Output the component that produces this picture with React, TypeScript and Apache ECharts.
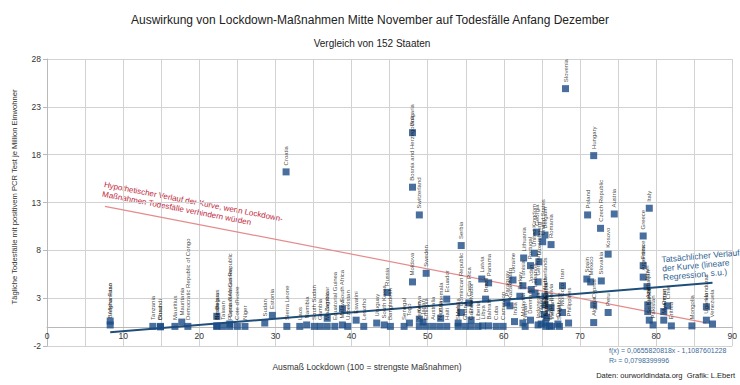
import React, { useEffect, useRef } from 'react';
import * as echarts from 'echarts';

const COUNTRIES = [
  'Afghanistan', 'Burkina Faso', 'Tanzania', 'Chad', 'Burundi', 'Mauritius', 'Mauritania', 'Democratic Republic of Congo',
  'Belarus', 'Nicaragua', 'Benin', 'Taiwan', 'Central African Republic', 'Papua New Guinea', "Cote d'Ivoire", 'Niger',
  'Sudan', 'Estonia', 'Croatia', 'Sierra Leone', 'Laos', 'Namibia', 'South Sudan', 'Gambia',
  'Madagascar', 'Zambia', 'Equatorial Guinea', 'South Africa', 'Malawi', 'Uzbekistan', 'Eswatini', 'Lesotho',
  'Uruguay', 'South Korea', 'Russia', 'Bangladesh', 'Senegal', 'Togo', 'Bulgaria', 'Bosnia and Herzegovina',
  'Moldova', 'Switzerland', 'Kenya', 'Yemen', 'Japan', 'Sweden', 'Ethiopia', 'Australia',
  'Nigeria', 'Guatemala', 'Ecuador', 'Haiti', 'Mali', 'Somalia', 'Serbia', 'Dominican Republic',
  'Ghana', 'Costa Rica', 'El Salvador', 'Guinea', 'Liberia', 'Latvia', 'Libya', 'Brazil',
  'Panama', 'Bahrain', 'Cuba', 'Cameroon', 'Paraguay', 'Kazakhstan', 'Ukraine', 'India',
  'Turkey', 'Tunisia', 'Lithuania', 'Malaysia', 'Nepal', 'Portugal', 'Denmark', 'Jordan',
  'United Kingdom', 'Lebanon', 'Georgia', 'Germany', 'Indonesia', 'Luxembourg', 'Finland', 'United States',
  'Iraq', 'Belgium', 'Netherlands', 'Canada', 'Saudi Arabia', 'Thailand', 'Ireland', 'Egypt',
  'Bolivia', 'Romania', 'Vietnam', 'Qatar', 'Singapore', 'Iran', 'Morocco', 'Slovenia',
  'Philippines', 'Spain', 'Poland', 'Mexico', 'Hungary', 'Cyprus', 'Algeria', 'Czech Republic',
  'Slovakia', 'Kosovo', 'Peru', 'Austria', 'Greece', 'France', 'Argentina', 'Israel',
  'Azerbaijan', 'Kuwait', 'Italy', 'Sri Lanka', 'Pakistan', 'Oman', 'Myanmar', 'Chile',
  'Eritrea', 'Mongolia', 'Honduras', 'Uganda', 'Venezuela',
];

const STRINGENCY = [
  8.3, 8.3, 13.9, 14.9, 14.9, 16.8, 17.7, 18.5,
  22.3, 22.3, 22.3, 23.1, 24.0, 24.0, 25.0, 26.0,
  28.6, 29.6, 31.4, 31.5, 33.2, 34.1, 35.1, 35.9,
  36.8, 36.8, 37.8, 38.8, 38.8, 39.5, 40.6, 41.6,
  43.3, 44.3, 44.7, 45.1, 46.9, 47.6, 48.0, 48.0,
  48.0, 48.9, 48.9, 48.9, 49.4, 49.8, 49.8, 50.7,
  51.6, 51.7, 52.5, 52.5, 54.0, 54.0, 54.4, 54.4,
  54.9, 55.4, 55.7, 55.7, 56.6, 57.1, 57.2, 57.6,
  58.0, 58.0, 59.0, 59.9, 60.4, 60.8, 61.2, 61.4,
  62.1, 62.5, 62.6, 62.5, 62.8, 63.5, 63.5, 63.6,
  64.0, 64.1, 64.3, 64.5, 64.5, 64.6, 64.9, 65.1,
  65.3, 65.4, 65.4, 65.4, 65.5, 65.5, 65.6, 66.0,
  66.2, 66.2, 66.3, 67.1, 67.3, 67.7, 67.7, 68.1,
  68.5, 70.9, 71.0, 71.4, 71.8, 71.8, 71.8, 72.7,
  72.8, 73.7, 73.7, 74.5, 78.3, 78.3, 78.3, 78.8,
  78.9, 78.9, 79.1, 79.1, 79.6, 81.0, 81.0, 81.5,
  82.0, 84.7, 86.6, 86.6, 87.4,
];

const DEATHS = [
  0.6, 0.2, 0.05, 0.0, 0.05, 0.05, 0.5, 0.05,
  1.1, 0.05, 0.1, 0.05, 0.3, 0.05, 0.05, 0.05,
  0.4, 1.2, 16.2, 0.05, 0.05, 0.2, 0.05, 0.05,
  0.05, 0.9, 0.05, 1.9, 0.2, 0.05, 0.7, 0.05,
  0.4, 0.2, 3.6, 0.05, 0.05, 0.4, 20.3, 14.6,
  4.7, 11.7, 0.8, 0.05, 0.5, 5.6, 0.05, 0.05,
  0.05, 0.9, 2.9, 0.05, 0.4, 0.05, 8.5, 1.5,
  0.05, 2.5, 0.7, 0.05, 0.05, 5.0, 0.1, 2.9,
  4.6, 0.1, 0.05, 0.05, 2.5, 2.2, 4.9, 0.55,
  3.2, 4.3, 7.2, 0.4, 0.05, 6.4, 0.7, 3.9,
  7.7, 3.5, 9.9, 4.7, 0.2, 6.8, 0.3, 8.9,
  1.3, 9.6, 3.2, 2.3, 0.4, 0.05, 1.0, 0.1,
  2.0, 8.6, 0.05, 0.3, 0.05, 4.3, 1.5, 24.9,
  0.4, 5.0, 11.7, 4.7, 17.9, 2.3, 0.45, 10.3,
  4.8, 7.6, 1.5, 11.8, 9.5, 6.4, 5.2, 4.2,
  2.3, 1.6, 12.4, 0.7, 0.2, 1.6, 0.7, 2.2,
  0.1, 0.1, 2.1, 0.7, 0.3,
];

// Regression shown in the reference chart
const SLOPE = 0.0655820818;
const INTERCEPT = -1.1087601228;
const R_SQUARED = 0.0798399996;

// Hypothetical (red) line, endpoints
const HYPO_X = [7.6, 86.6];
const HYPO_Y = [12.6, 0.42];

const X_MIN = 0;
const X_MAX = 90;
const X_STEP = 5;
const X_LABEL_STEP = 10;
const Y_MIN = -2;
const Y_MAX = 28;
const Y_STEP = 5;

const TITLE = 'Auswirkung von Lockdown-Maßnahmen Mitte November auf Todesfälle Anfang Dezember';
const SUBTITLE = 'Vergleich von 152 Staaten';
const X_NAME = 'Ausmaß Lockdown (100 = strengste Maßnahmen)';
const Y_NAME = 'Tägliche Todesfälle mit positivem PCR Test je Million Einwohner';
const HYPO_TEXT = 'Hypothetischer Verlauf der Kurve, wenn Lockdown-\nMaßnahmen Todesfälle verhindern würden';
const REG_TEXT = 'Tatsächlicher Verlauf\nder Kurve (lineare\nRegression, s.u.)';
const SOURCE = 'Daten: ourworldindata.org  Grafik: L.Ebert';

const FONT = 'Liberation Sans, Arial, Helvetica, sans-serif';
const de = (v: number) => String(v).replace('.', ',');

const GRID_TOP = 59;
const GRID_BOTTOM = 39;
const CHART_H = 385;

export default function App() {
  const ref = useRef<HTMLDivElement>(null);

  useEffect(() => {
    if (!ref.current) return;
    const chart = echarts.init(ref.current, null, { renderer: 'svg' });

    const points = COUNTRIES.map((name, i) => ({ name, value: [STRINGENCY[i], DEATHS[i]] }));
    const xLo = Math.min(...STRINGENCY);
    const xHi = Math.max(...STRINGENCY);
    const regLine = [
      [xLo, SLOPE * xLo + INTERCEPT],
      [xHi, SLOPE * xHi + INTERCEPT],
    ];
    const hypoLine = HYPO_X.map((x, i) => [x, HYPO_Y[i]]);

    const formula = `f(x) = ${de(SLOPE)}x - ${de(Math.abs(INTERCEPT))}`;
    const rText = `R² = ${de(R_SQUARED)}`;

    // move the x axis (line + labels) up to y = 0
    const plotH = CHART_H - GRID_TOP - GRID_BOTTOM;
    const zeroOffset = -((0 - Y_MIN) / (Y_MAX - Y_MIN)) * plotH;

    const option: any = {
      animation: false,
      backgroundColor: '#ffffff',
      textStyle: { fontFamily: FONT },
      grid: { left: 47, right: 7, top: GRID_TOP, bottom: GRID_BOTTOM, containLabel: false },
      xAxis: {
        type: 'value',
        min: X_MIN,
        max: X_MAX,
        interval: X_STEP,
        offset: zeroOffset,
        axisLine: { show: true, onZero: false, lineStyle: { color: '#b9b9b9', width: 1 } },
        axisTick: { show: false },
        axisLabel: {
          fontSize: 8.5,
          color: '#333',
          margin: 5,
          fontFamily: FONT,
          formatter: (v: number) => (v % X_LABEL_STEP === 0 ? String(v) : ''),
        },
        splitLine: { show: true, lineStyle: { color: '#d2d2d2', width: 1 } },
      },
      yAxis: {
        type: 'value',
        min: Y_MIN,
        max: Y_MAX,
        interval: Y_STEP,
        axisLine: { show: true, lineStyle: { color: '#b9b9b9', width: 1 } },
        axisTick: { show: true, length: 4, lineStyle: { color: '#b9b9b9' } },
        axisLabel: { fontSize: 8.5, color: '#333', margin: 6, fontFamily: FONT },
        splitLine: { show: true, lineStyle: { color: '#d2d2d2', width: 1 } },
      },
      series: [
        {
          type: 'line',
          data: hypoLine,
          symbol: 'none',
          z: 1,
          lineStyle: { color: '#e58b8b', width: 1.2 },
          silent: true,
        },
        {
          type: 'line',
          data: regLine,
          symbol: 'none',
          z: 2,
          lineStyle: { color: '#1f4e79', width: 2 },
          silent: true,
        },
        {
          type: 'scatter',
          data: points,
          symbol: 'rect',
          symbolSize: 7,
          z: 3,
          itemStyle: { color: '#1a4b84' },
          label: {
            show: true,
            position: 'top',
            distance: 3,
            rotate: 90,
            align: 'left',
            verticalAlign: 'middle',
            formatter: '{b}',
            fontSize: 6,
            color: '#111',
            fontFamily: FONT,
          },
          labelLayout: { hideOverlap: false },
        },
      ],
      graphic: [
        {
          type: 'text', x: 370, y: 20, silent: true,
          style: { text: TITLE, fill: '#222', fontSize: 12, fontFamily: FONT, align: 'center', verticalAlign: 'middle' },
        },
        {
          type: 'text', x: 372, y: 43, silent: true,
          style: { text: SUBTITLE, fill: '#222', fontSize: 10, fontFamily: FONT, align: 'center', verticalAlign: 'middle' },
        },
        {
          type: 'text', x: 14, y: 197, rotation: Math.PI / 2, silent: true,
          style: { text: Y_NAME, fill: '#333', fontSize: 7.6, fontFamily: FONT, align: 'center', verticalAlign: 'middle' },
        },
        {
          type: 'text', x: 367, y: 367, silent: true,
          style: { text: X_NAME, fill: '#333', fontSize: 8.5, fontFamily: FONT, align: 'center', verticalAlign: 'middle' },
        },
        {
          type: 'text', x: 609, y: 350, silent: true,
          style: { text: formula, fill: '#3b6a98', fontSize: 7, fontFamily: FONT, align: 'left', verticalAlign: 'middle' },
        },
        {
          type: 'text', x: 609, y: 360, silent: true,
          style: { text: rText, fill: '#3b6a98', fontSize: 7, fontFamily: FONT, align: 'left', verticalAlign: 'middle' },
        },
        {
          type: 'text', x: 735, y: 375, silent: true,
          style: { text: SOURCE, fill: '#222', fontSize: 7.5, fontFamily: FONT, align: 'right', verticalAlign: 'middle' },
        },
        {
          type: 'text', x: 105, y: 180, rotation: -0.19, silent: true,
          style: { text: HYPO_TEXT, fill: '#c0283a', fontSize: 8, lineHeight: 9.5, fontFamily: FONT, align: 'left', verticalAlign: 'top' },
        },
        {
          type: 'text', x: 661, y: 255, rotation: 0.09, silent: true,
          style: { text: REG_TEXT, fill: '#2f5f91', fontSize: 8.5, lineHeight: 9, fontFamily: FONT, align: 'left', verticalAlign: 'top' },
        },
      ],
    };

    chart.setOption(option);
    return () => chart.dispose();
  }, []);

  return <div ref={ref} style={{ position: 'absolute', left: 0, top: 0, width: 740, height: 385 }} />;
}
